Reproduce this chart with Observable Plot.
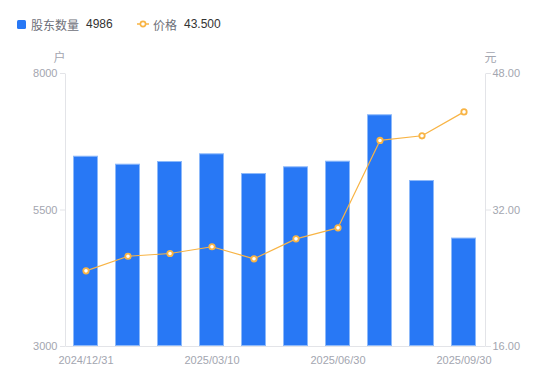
<!DOCTYPE html>
<html>
<head>
<meta charset="utf-8">
<script src="https://cdn.jsdelivr.net/npm/d3@7"></script>
<script src="https://cdn.jsdelivr.net/npm/@observablehq/plot@0.6"></script>
<style>
  html, body { margin: 0; padding: 0; background: #fff; }
  body { width: 550px; height: 381px; overflow: hidden; font-family: "Liberation Sans", "Noto Sans CJK SC", sans-serif; }
  #legend { height: 40px; position: relative; font-size: 12px; }
  .item { position: absolute; top: 17px; display: flex; align-items: center; height: 14px; white-space: nowrap; }
  .name { color: #6e7079; font-family: "Noto Sans CJK SC", sans-serif; }
  .val { color: #333; margin-left: 7px; }
  .sq { width: 9px; height: 9px; background: #2878f5; border-radius: 1.5px; margin-right: 5px; }
</style>
</head>
<body>
<div id="legend"></div>
<div id="chart"></div>
<script>
const dates = ["2024/12/31", "2025/01/10", "2025/02/28", "2025/03/10", "2025/03/31", "2025/04/30", "2025/06/30", "2025/07/31", "2025/08/31", "2025/09/30"];
const holders = [6485, 6339, 6388, 6529, 6168, 6291, 6394, 7244, 6040, 4986];
const prices = [24.87, 26.58, 26.90, 27.69, 26.28, 28.62, 29.91, 40.15, 40.70, 43.50];
const xTickLabels = ["2024/12/31", "2025/03/10", "2025/06/30", "2025/09/30"];
const leftTicks = [3000, 5500, 8000];
const holderDomain = [3000, 8000];
const priceDomain = [16, 48];
const seriesNames = ["股东数量", "价格"];
const units = ["户", "元"];

const toLeft = p => holderDomain[0] + (p - priceDomain[0]) / (priceDomain[1] - priceDomain[0]) * (holderDomain[1] - holderDomain[0]);
const toRight = v => priceDomain[0] + (v - holderDomain[0]) / (holderDomain[1] - holderDomain[0]) * (priceDomain[1] - priceDomain[0]);

const rows = dates.map((d, i) => ({date: d, holders: holders[i], price: prices[i], priceY: toLeft(prices[i])}));

const blue = "#2878f5";
const orange = "#f8b445";
const tickText = "#a3a6b0";
const lineGray = "#e3e4e8";

// Legend
const legend = document.getElementById("legend");
legend.innerHTML = `
  <div class="item" style="left:17px"><div class="sq"></div><span class="name">${seriesNames[0]}</span><span class="val">${holders[holders.length-1]}</span></div>
  <div class="item" style="left:137px"><svg width="12" height="10" style="margin-right:4px"><line x1="0" y1="5" x2="12" y2="5" stroke="${orange}" stroke-width="1.5"/><circle cx="6" cy="5" r="2.6" fill="#fff" stroke="${orange}" stroke-width="1.6"/></svg><span class="name">${seriesNames[1]}</span><span class="val">${prices[prices.length-1].toFixed(3)}</span></div>
`;

const W = 550, H = 341, mL = 65, mR = 65, mT = 33, mB = 35;
const fw = W - mL - mR, fh = H - mT - mB;

const chart = Plot.plot({
  width: W,
  height: H,
  marginLeft: mL,
  marginRight: mR,
  marginTop: mT,
  marginBottom: mB,
  style: {fontFamily: "Liberation Sans, Noto Sans CJK SC, sans-serif", fontSize: "11px", background: "#fff"},
  x: {type: "band", domain: dates, paddingInner: 0.4, paddingOuter: 0.2},
  y: {domain: holderDomain},
  marks: [
    Plot.frame({stroke: lineGray, strokeDasharray: `0,${fw},${fh + fw + fh}`}),
    Plot.barY(rows, {x: "date", y: "holders", y1: holderDomain[0], fill: blue, stroke: "#8db9fa", strokeWidth: 1, inset: 0.5}),
    Plot.line(rows, {x: "date", y: "priceY", stroke: orange, strokeWidth: 1.2}),
    Plot.dot(rows, {x: "date", y: "priceY", r: 2.7, fill: "#fff", stroke: orange, strokeWidth: 1.8}),
    Plot.axisX({ticks: xTickLabels, tickSize: 0, tickPadding: 10, fill: tickText, label: null, fontSize: 11}),
    Plot.axisY({anchor: "left", ticks: leftTicks, tickSize: 5, tickPadding: 3, stroke: lineGray, fill: tickText, label: null, fontSize: 11, tickFormat: v => String(v)}),
    Plot.axisY({anchor: "right", ticks: leftTicks, tickSize: 5, tickPadding: 2, stroke: lineGray, fill: tickText, label: null, fontSize: 11, tickFormat: v => toRight(v).toFixed(2)}),
    Plot.text([units[0]], {frameAnchor: "top-left", text: d => d, dx: -12, dy: -20, fill: tickText, fontSize: 12, fontFamily: "Noto Sans CJK SC"}),
    Plot.text([units[1]], {frameAnchor: "top-right", text: d => d, dx: 11, dy: -20, fill: tickText, fontSize: 12, fontFamily: "Noto Sans CJK SC"})
  ]
});
document.getElementById("chart").appendChild(chart);
</script>
</body>
</html>
